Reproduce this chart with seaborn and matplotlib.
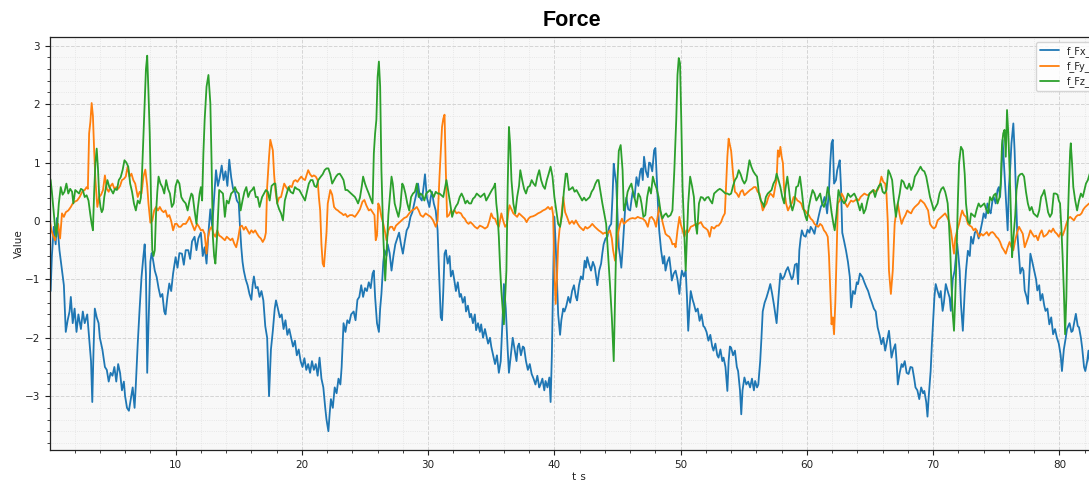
import matplotlib
matplotlib.use("Agg")
import matplotlib.pyplot as plt
from matplotlib.ticker import AutoMinorLocator
import numpy as np
import pandas as pd
import seaborn as sns

# Force components (time in s, force in N)
FX = [(0.0,-0.75),(0.1,-1.2),(0.2,-0.6),(0.35,-0.1),(0.5,-0.4),(0.6,0.05),(0.8,-0.5),(1.0,-0.85),(1.15,-1.1),(1.3,-1.9),
(1.45,-1.7),(1.6,-1.55),(1.7,-1.3),(1.85,-1.75),(2.0,-1.5),(2.15,-1.9),(2.3,-1.6),(2.5,-1.85),(2.65,-1.55),(2.8,-1.75),
(3.0,-1.6),(3.15,-2.0),(3.3,-2.4),(3.4,-3.1),(3.5,-2.2),(3.6,-1.5),(3.75,-1.65),(3.9,-1.75),(4.0,-2.0),(4.2,-2.2),
(4.4,-2.5),(4.55,-2.55),(4.7,-2.75),(4.85,-2.6),(5.0,-2.65),(5.15,-2.5),(5.3,-2.75),(5.45,-2.45),(5.6,-2.6),(5.75,-2.9),
(5.9,-2.75),(6.0,-3.0),(6.15,-3.2),(6.3,-3.25),(6.45,-3.05),(6.6,-2.85),(6.75,-3.2),(6.85,-2.8),(7.0,-2.1),(7.15,-1.5),
(7.3,-0.96),(7.45,-0.6),(7.55,-0.4),(7.65,-0.9),(7.75,-2.6),(7.85,-1.8),(8.0,-0.7),(8.1,-0.55),(8.2,-0.65),(8.35,-0.85),
(8.5,-0.96),(8.65,-1.15),(8.8,-1.3),(8.95,-1.25),(9.1,-1.55),(9.2,-1.6),(9.35,-1.3),(9.5,-1.07),(9.65,-1.2),(9.8,-0.9),
(10.0,-0.62),(10.15,-0.8),(10.3,-0.55),(10.5,-0.56),(10.65,-0.75),(10.8,-0.5),(11.0,-0.5),(11.15,-0.65),(11.3,-0.35),(11.5,-0.27),
(11.65,-0.5),(11.8,-0.3),(12.0,-0.2),(12.15,-0.6),(12.3,-0.45),(12.45,-0.73),(12.6,-0.2),(12.75,0.2),(12.9,-0.1),(13.05,0.4),
(13.2,0.87),(13.35,0.6),(13.5,0.75),(13.65,0.95),(13.8,0.7),(13.95,0.85),(14.1,0.6),(14.25,1.05),(14.4,0.75),(14.55,0.55),
(14.7,0.5),(14.85,0.35),(15.0,0.3),(15.1,-0.1),(15.2,-0.45),(15.3,-0.7),(15.4,-0.85),(15.55,-1.0),(15.7,-1.1),(15.85,-1.25),
(16.0,-1.35),(16.1,-1.1),(16.2,-0.95),(16.35,-1.15),(16.5,-1.13),(16.65,-1.3),(16.8,-1.2),(16.95,-1.36),(17.1,-1.8),(17.25,-2.0),
(17.4,-3.0),(17.55,-2.2),(17.7,-1.88),(17.85,-1.5),(17.95,-1.36),(18.1,-1.5),(18.25,-1.65),(18.4,-1.6),(18.55,-1.85),(18.7,-1.7),
(18.85,-1.95),(19.0,-1.85),(19.15,-2.0),(19.3,-2.15),(19.45,-2.05),(19.6,-2.3),(19.75,-2.2),(19.9,-2.4),(20.05,-2.5),(20.2,-2.35),
(20.35,-2.55),(20.5,-2.45),(20.65,-2.6),(20.8,-2.4),(20.95,-2.55),(21.1,-2.45),(21.25,-2.65),(21.4,-2.34),(21.55,-2.7),(21.7,-2.85),
(21.85,-3.2),(21.95,-3.4),(22.1,-3.6),(22.2,-3.3),(22.3,-3.05),(22.45,-3.2),(22.6,-2.85),(22.75,-2.95),(22.9,-2.7),(23.05,-2.8),
(23.15,-2.5),(23.3,-1.75),(23.45,-1.9),(23.6,-1.7),(23.75,-1.75),(23.9,-1.6),(24.1,-1.55),(24.25,-1.7),(24.4,-1.35),(24.55,-1.3),
(24.7,-1.1),(24.85,-1.3),(25.0,-1.15),(25.15,-1.2),(25.3,-1.05),(25.45,-1.15),(25.6,-0.9),(25.7,-0.85),(25.8,-1.3),(25.95,-1.75),
(26.1,-1.9),(26.2,-1.5),(26.3,-1.25),(26.45,-0.7),(26.55,-0.5),(26.7,-0.6),(26.8,-0.4),(26.95,-0.55),(27.1,-0.85),(27.25,-0.6),
(27.4,-0.4),(27.55,-0.3),(27.7,-0.2),(27.85,-0.4),(28.0,-0.56),(28.15,-0.35),(28.3,-0.16),(28.45,-0.1),(28.6,0.07),(28.75,0.15),
(28.9,0.3),(29.05,0.45),(29.2,0.64),(29.35,0.4),(29.5,0.35),(29.65,0.6),(29.75,0.8),(29.9,0.4),(30.1,0.24),(30.2,0.4),
(30.3,0.5),(30.45,0.3),(30.6,0.18),(30.75,-0.16),(30.85,-0.8),(31.0,-1.65),(31.1,-1.7),(31.2,-1.2),(31.3,-0.56),(31.4,-0.5),
(31.55,-0.73),(31.7,-0.6),(31.8,-0.95),(31.95,-0.85),(32.1,-1.05),(32.2,-1.2),(32.35,-1.05),(32.5,-1.3),(32.6,-1.25),(32.75,-1.4),
(32.9,-1.3),(33.0,-1.55),(33.15,-1.45),(33.3,-1.65),(33.4,-1.59),(33.55,-1.75),(33.7,-1.6),(33.8,-1.87),(33.95,-1.75),(34.1,-1.9),
(34.2,-1.77),(34.35,-2.0),(34.5,-1.85),(34.6,-1.95),(34.75,-2.1),(34.9,-2.0),(35.0,-2.15),(35.15,-2.3),(35.3,-2.45),(35.45,-2.3),
(35.6,-2.6),(35.75,-2.4),(35.9,-1.65),(36.0,-1.08),(36.15,-1.5),(36.3,-2.2),(36.4,-2.6),(36.55,-2.3),(36.7,-2.0),(36.85,-2.2),
(37.0,-2.4),(37.1,-2.15),(37.2,-2.1),(37.35,-2.3),(37.5,-2.15),(37.6,-2.17),(37.75,-2.4),(37.9,-2.55),(38.05,-2.45),(38.2,-2.62),
(38.35,-2.7),(38.5,-2.8),(38.65,-2.65),(38.8,-2.85),(38.9,-2.8),(39.05,-2.7),(39.2,-2.9),(39.3,-2.74),(39.45,-2.85),(39.6,-2.68),
(39.7,-3.1),(39.8,-2.3),(39.9,-1.0),(40.0,0.07),(40.1,-0.4),(40.2,-1.0),(40.3,-1.6),(40.45,-1.95),(40.55,-1.7),(40.7,-1.5),
(40.8,-1.55),(40.95,-1.45),(41.1,-1.3),(41.25,-1.4),(41.4,-1.2),(41.55,-1.1),(41.7,-1.3),(41.8,-1.36),(41.95,-1.1),(42.1,-0.95),
(42.25,-1.0),(42.4,-0.68),(42.5,-0.8),(42.6,-0.62),(42.75,-0.75),(42.9,-0.85),(43.05,-0.7),(43.2,-0.79),(43.3,-0.95),(43.4,-1.1),
(43.55,-0.85),(43.7,-0.73),(43.8,-0.55),(43.9,-0.4),(44.05,-0.3),(44.2,-0.27),(44.35,-0.1),(44.5,-0.05),(44.6,0.4),(44.7,0.98),
(44.8,0.8),(44.9,0.64),(45.0,0.1),(45.1,-0.45),(45.2,-0.6),(45.3,-0.8),(45.4,-0.5),(45.5,-0.16),(45.6,0.2),(45.7,0.4),
(45.85,0.2),(46.0,0.18),(46.1,0.35),(46.2,0.5),(46.35,0.4),(46.5,0.75),(46.65,0.6),(46.8,0.85),(46.9,0.9),(47.0,0.7),
(47.1,1.1),(47.25,0.85),(47.4,0.75),(47.5,1.0),(47.6,0.99),(47.75,0.85),(47.9,1.21),(48.0,1.25),(48.1,0.76),(48.2,0.3),
(48.3,-0.16),(48.45,-0.5),(48.6,-0.73),(48.7,-0.6),(48.8,-0.85),(48.95,-0.7),(49.1,-0.62),(49.2,-0.8),(49.3,-1.02),(49.45,-0.9),
(49.6,-0.85),(49.75,-1.0),(49.9,-1.25),(50.0,-1.0),(50.1,-0.85),(50.25,-0.95),(50.4,-0.85),(50.5,-1.3),(50.6,-1.88),(50.7,-1.5),
(50.8,-1.2),(50.95,-1.35),(51.05,-1.42),(51.2,-1.55),(51.35,-1.5),(51.5,-1.71),(51.65,-1.6),(51.8,-1.8),(51.9,-1.82),(52.05,-1.9),
(52.2,-2.05),(52.35,-1.95),(52.5,-2.15),(52.6,-2.22),(52.75,-2.1),(52.9,-2.3),(53.0,-2.34),(53.15,-2.2),(53.3,-2.4),(53.4,-2.34),
(53.55,-2.5),(53.7,-2.91),(53.8,-2.4),(53.9,-2.15),(54.0,-2.17),(54.15,-2.3),(54.3,-2.22),(54.45,-2.5),(54.55,-2.57),(54.7,-2.9),
(54.8,-3.31),(54.9,-2.9),(55.05,-2.68),(55.2,-2.8),(55.35,-2.75),(55.5,-2.85),(55.65,-2.7),(55.8,-2.9),(55.9,-2.74),(56.05,-2.85),
(56.15,-2.8),(56.3,-2.4),(56.4,-2.0),(56.5,-1.55),(56.65,-1.4),(56.8,-1.31),(56.95,-1.2),(57.1,-1.08),(57.25,-1.25),(57.4,-1.45),
(57.5,-1.6),(57.6,-1.75),(57.75,-1.3),(57.9,-0.9),(58.05,-1.0),(58.2,-0.95),(58.35,-0.85),(58.5,-0.79),(58.65,-0.9),(58.8,-1.0),
(58.9,-0.96),(59.05,-0.75),(59.2,-0.73),(59.3,-1.08),(59.4,-0.5),(59.5,-0.3),(59.6,-0.16),(59.75,-0.25),(59.9,-0.27),(60.05,-0.15),
(60.2,-0.2),(60.3,-0.1),(60.45,-0.15),(60.6,-0.22),(60.7,-0.1),(60.8,-0.05),(60.95,0.1),(61.1,0.24),(61.25,0.3),(61.4,0.41),
(61.5,0.3),(61.6,0.13),(61.75,0.53),(61.85,1.0),(61.95,1.33),(62.05,1.39),(62.15,0.64),(62.3,0.7),(62.4,0.87),(62.5,0.95),
(62.6,1.04),(62.7,0.58),(62.8,-0.2),(62.95,-0.35),(63.1,-0.51),(63.25,-0.7),(63.4,-0.96),(63.5,-1.48),(63.65,-1.2),(63.8,-1.25),
(63.95,-1.05),(64.05,-1.08),(64.2,-0.9),(64.4,-0.96),(64.55,-1.05),(64.7,-1.13),(64.85,-1.2),(65.0,-1.31),(65.15,-1.4),(65.3,-1.5),
(65.45,-1.55),(65.6,-1.82),(65.75,-1.95),(65.9,-2.11),(66.05,-2.0),(66.2,-2.22),(66.35,-2.05),(66.5,-1.88),(66.6,-2.1),(66.7,-2.34),
(66.85,-2.2),(67.0,-2.11),(67.1,-2.4),(67.2,-2.8),(67.35,-2.6),(67.5,-2.45),(67.6,-2.5),(67.75,-2.4),(67.9,-2.6),(68.05,-2.62),
(68.2,-2.5),(68.35,-2.51),(68.5,-2.7),(68.6,-2.85),(68.75,-2.9),(68.9,-3.05),(69.05,-2.85),(69.2,-2.95),(69.3,-2.91),(69.45,-3.1),
(69.55,-3.35),(69.65,-3.0),(69.8,-2.57),(69.9,-2.1),(70.0,-1.71),(70.1,-1.3),(70.2,-1.08),(70.35,-1.2),(70.5,-1.31),(70.6,-1.2),
(70.75,-1.54),(70.85,-1.4),(71.0,-1.08),(71.15,-1.2),(71.3,-1.31),(71.4,-1.54),(71.55,-1.0),(71.7,-0.85),(71.9,-0.39),(72.0,-0.6),
(72.1,-0.85),(72.2,-1.42),(72.35,-1.88),(72.5,-1.2),(72.6,-0.85),(72.75,-0.51),(72.9,-0.6),(73.0,-0.27),(73.15,-0.39),(73.3,-0.2),
(73.45,-0.16),(73.6,-0.3),(73.75,-0.16),(73.9,0.0),(74.0,0.13),(74.15,0.05),(74.3,0.3),(74.45,0.18),(74.55,0.13),(74.7,0.35),
(74.8,0.41),(74.95,0.3),(75.1,0.53),(75.2,0.58),(75.3,0.41),(75.4,0.8),(75.5,1.39),(75.6,1.0),(75.7,0.58),(75.8,0.2),
(75.9,-0.16),(76.0,0.58),(76.1,0.9),(76.2,1.33),(76.35,1.67),(76.45,1.2),(76.55,0.5),(76.65,-0.16),(76.8,-0.6),(76.9,-0.9),
(77.05,-0.8),(77.15,-0.85),(77.25,-1.19),(77.4,-1.3),(77.5,-1.42),(77.6,-1.0),(77.7,-0.56),(77.85,-0.7),(78.0,-0.85),(78.15,-1.0),
(78.25,-1.19),(78.4,-1.1),(78.5,-1.36),(78.65,-1.25),(78.8,-1.45),(78.9,-1.54),(79.05,-1.5),(79.2,-1.77),(79.35,-1.65),(79.5,-1.94),
(79.65,-1.85),(79.8,-2.0),(79.95,-2.1),(80.1,-2.3),(80.2,-2.57),(80.35,-2.2),(80.5,-2.0),(80.6,-1.85),(80.8,-1.75),(80.95,-1.9),
(81.05,-1.88),(81.2,-1.7),(81.3,-1.59),(81.45,-1.8),(81.55,-1.82),(81.7,-2.0),(81.8,-2.17),(81.95,-2.5),(82.05,-2.57),(82.2,-2.4),
(82.3,-2.22),(82.45,-2.5),(82.6,-2.6)]

FY = [(0.0,0.07),(0.15,-0.15),(0.3,-0.25),(0.45,-0.33),(0.55,-0.2),(0.7,-0.05),(0.85,-0.3),(1.0,0.13),(1.15,0.07),(1.3,0.15),
(1.5,0.18),(1.7,0.24),(1.85,0.3),(2.0,0.33),(2.2,0.35),(2.4,0.41),(2.6,0.5),(2.8,0.53),(2.95,0.58),(3.05,0.55),
(3.15,1.5),(3.25,1.7),(3.35,2.02),(3.45,1.8),(3.55,1.2),(3.65,0.7),(3.8,0.24),(3.95,0.41),(4.1,0.45),(4.25,0.53),
(4.4,0.78),(4.55,0.55),(4.7,0.5),(4.85,0.6),(5.0,0.64),(5.15,0.55),(5.3,0.58),(5.45,0.55),(5.6,0.6),(5.75,0.7),
(5.9,0.72),(6.05,0.76),(6.2,0.93),(6.35,0.76),(6.5,0.81),(6.65,0.7),(6.8,0.64),(7.0,0.41),(7.15,0.5),(7.3,0.47),
(7.45,0.76),(7.6,0.88),(7.75,0.6),(7.85,0.3),(8.0,-0.03),(8.15,0.0),(8.3,0.18),(8.45,0.24),(8.6,0.18),(8.75,0.24),
(8.9,0.18),(9.05,0.15),(9.2,0.18),(9.35,0.07),(9.5,0.1),(9.65,0.0),(9.8,-0.16),(9.95,-0.05),(10.1,-0.05),(10.25,-0.1),
(10.4,-0.1),(10.6,-0.05),(10.8,-0.05),(10.95,0.0),(11.1,0.07),(11.3,-0.05),(11.5,-0.16),(11.7,-0.05),(11.85,-0.1),(12.0,-0.16),
(12.15,-0.15),(12.3,-0.22),(12.45,-0.56),(12.55,-0.3),(12.7,-0.15),(12.85,-0.1),(13.0,-0.22),(13.15,-0.27),(13.3,-0.16),(13.45,-0.25),
(13.6,-0.27),(13.75,-0.3),(13.9,-0.33),(14.05,-0.27),(14.2,-0.3),(14.35,-0.33),(14.5,-0.3),(14.65,-0.39),(14.8,-0.45),(14.95,-0.3),
(15.1,-0.1),(15.25,-0.08),(15.4,-0.15),(15.55,-0.1),(15.7,-0.16),(15.85,-0.22),(16.0,-0.16),(16.15,-0.2),(16.3,-0.16),(16.45,-0.22),
(16.6,-0.27),(16.75,-0.3),(16.9,-0.36),(17.05,-0.3),(17.15,-0.2),(17.25,0.58),(17.4,1.1),(17.5,1.39),(17.6,1.3),(17.7,1.21),
(17.8,0.8),(17.9,0.53),(18.05,0.3),(18.2,0.4),(18.35,0.41),(18.5,0.55),(18.6,0.64),(18.75,0.58),(18.9,0.53),(19.05,0.6),
(19.2,0.58),(19.35,0.68),(19.5,0.7),(19.65,0.67),(19.8,0.72),(19.95,0.76),(20.1,0.72),(20.25,0.7),(20.4,0.8),(20.5,0.87),
(20.65,0.8),(20.8,0.76),(20.95,0.78),(21.1,0.76),(21.25,0.7),(21.35,0.4),(21.45,0.18),(21.55,-0.4),(21.65,-0.73),(21.75,-0.78),
(21.85,-0.5),(21.95,-0.2),(22.05,0.3),(22.15,0.41),(22.25,0.53),(22.4,0.45),(22.55,0.24),(22.7,0.2),(22.85,0.18),(23.0,0.15),
(23.15,0.13),(23.3,0.1),(23.45,0.12),(23.6,0.07),(23.8,0.1),(24.0,0.1),(24.2,0.07),(24.4,0.13),(24.6,0.2),(24.8,0.33),
(24.95,0.36),(25.1,0.27),(25.3,0.18),(25.45,0.2),(25.6,0.15),(25.75,0.1),(25.85,-0.33),(25.95,-0.25),(26.05,0.3),(26.15,0.25),
(26.3,0.07),(26.45,-0.05),(26.6,-0.2),(26.7,-0.33),(26.85,-0.16),(27.0,-0.1),(27.15,-0.1),(27.3,-0.16),(27.45,-0.08),(27.6,-0.05),
(27.75,-0.02),(27.9,0.01),(28.1,0.05),(28.3,0.07),(28.5,0.13),(28.7,0.18),(28.9,0.2),(29.1,0.24),(29.25,0.18),(29.4,0.1),
(29.6,0.07),(29.8,0.13),(30.0,0.1),(30.2,0.07),(30.4,0.01),(30.6,-0.1),(30.75,0.01),(30.9,0.76),(31.0,1.2),(31.1,1.61),
(31.2,1.75),(31.3,1.82),(31.4,0.87),(31.5,0.07),(31.65,0.1),(31.8,0.18),(31.95,0.15),(32.1,0.18),(32.25,0.13),(32.4,0.15),
(32.6,0.13),(32.75,0.07),(32.9,0.04),(33.05,-0.02),(33.2,-0.05),(33.35,-0.02),(33.5,-0.05),(33.7,-0.1),(33.9,-0.13),(34.1,-0.08),
(34.3,-0.1),(34.5,-0.13),(34.7,-0.1),(34.85,0.0),(35.0,0.13),(35.15,0.05),(35.3,0.04),(35.45,-0.05),(35.6,-0.1),(35.8,0.13),
(35.95,0.0),(36.1,-0.1),(36.25,-0.05),(36.35,0.15),(36.45,0.27),(36.6,0.2),(36.75,0.13),(36.9,0.1),(37.05,0.07),(37.2,0.13),
(37.35,0.1),(37.5,0.07),(37.65,0.04),(37.8,-0.02),(37.95,0.04),(38.1,0.07),(38.3,0.08),(38.5,0.1),(38.7,0.13),(38.9,0.15),
(39.1,0.18),(39.3,0.2),(39.5,0.24),(39.65,0.2),(39.8,0.24),(39.9,0.1),(40.0,-0.85),(40.1,-1.42),(40.2,-1.0),(40.3,-0.4),
(40.4,-0.16),(40.55,0.07),(40.7,0.41),(40.85,0.15),(41.0,0.07),(41.2,-0.05),(41.4,0.0),(41.55,-0.05),(41.7,0.01),(41.85,-0.05),
(42.0,-0.1),(42.15,-0.13),(42.3,-0.16),(42.45,-0.1),(42.6,-0.13),(42.8,-0.1),(43.0,-0.05),(43.2,-0.1),(43.35,-0.13),(43.5,-0.16),
(43.7,-0.19),(43.85,-0.22),(44.0,-0.2),(44.2,-0.22),(44.4,-0.16),(44.55,-0.3),(44.65,-0.5),(44.8,-0.68),(44.9,-0.56),(45.05,-0.2),
(45.2,-0.05),(45.35,0.04),(45.5,-0.05),(45.65,-0.02),(45.8,0.01),(46.0,0.04),(46.2,0.05),(46.4,0.04),(46.6,0.07),(46.8,0.05),
(47.0,0.04),(47.2,0.0),(47.4,-0.1),(47.55,0.05),(47.7,0.07),(47.9,0.01),(48.05,-0.1),(48.2,0.1),(48.3,0.24),(48.45,0.1),
(48.6,-0.05),(48.8,-0.22),(48.95,-0.25),(49.1,-0.27),(49.25,-0.33),(49.35,-0.4),(49.5,-0.39),(49.6,-0.45),(49.75,-0.16),(49.9,0.07),
(50.0,-0.05),(50.15,-0.16),(50.3,-0.27),(50.45,-0.16),(50.6,-0.19),(50.8,-0.1),(51.0,-0.08),(51.2,-0.05),(51.4,-0.05),(51.6,-0.02),
(51.8,-0.1),(52.0,-0.13),(52.15,-0.16),(52.3,-0.27),(52.45,-0.1),(52.65,-0.13),(52.85,-0.08),(53.0,-0.08),(53.2,-0.02),(53.35,0.07),
(53.5,0.13),(53.6,0.6),(53.7,1.1),(53.8,1.41),(53.9,1.3),(54.0,1.2),(54.15,0.81),(54.3,0.5),(54.45,0.47),(54.6,0.41),
(54.75,0.5),(54.9,0.53),(55.05,0.44),(55.2,0.47),(55.35,0.5),(55.5,0.53),(55.65,0.55),(55.8,0.58),(55.95,0.58),(56.1,0.5),
(56.25,0.47),(56.4,0.3),(56.5,0.18),(56.65,0.25),(56.8,0.3),(56.95,0.41),(57.1,0.47),(57.25,0.44),(57.35,0.41),(57.5,0.6),
(57.6,0.7),(57.7,1.21),(57.8,1.1),(57.9,1.27),(58.0,1.1),(58.1,0.99),(58.2,0.53),(58.35,0.3),(58.5,0.18),(58.65,0.25),
(58.8,0.3),(58.95,0.41),(59.1,0.4),(59.25,0.35),(59.4,0.33),(59.55,0.3),(59.7,0.2),(59.85,0.18),(60.0,0.13),(60.15,0.1),
(60.3,0.04),(60.45,0.01),(60.6,-0.05),(60.75,-0.08),(60.9,-0.1),(61.05,-0.05),(61.2,-0.08),(61.35,-0.16),(61.5,-0.2),(61.65,-0.27),
(61.75,-0.6),(61.85,-1.2),(61.95,-1.77),(62.05,-1.65),(62.15,-1.94),(62.25,-1.4),(62.35,-0.6),(62.45,0.3),(62.6,0.35),(62.75,0.47),
(62.9,0.41),(63.05,0.3),(63.2,0.24),(63.35,0.3),(63.5,0.35),(63.65,0.33),(63.8,0.35),(63.95,0.38),(64.1,0.35),(64.25,0.41),
(64.4,0.44),(64.55,0.47),(64.7,0.45),(64.85,0.44),(65.0,0.47),(65.15,0.5),(65.3,0.53),(65.45,0.5),(65.6,0.53),(65.75,0.6),
(65.9,0.76),(66.05,0.67),(66.2,0.64),(66.3,0.47),(66.4,0.0),(66.5,-0.85),(66.65,-1.25),(66.8,-0.85),(66.95,-0.05),(67.1,0.2),
(67.2,0.3),(67.35,0.1),(67.5,-0.05),(67.65,0.04),(67.8,0.1),(67.95,0.18),(68.1,0.15),(68.25,0.13),(68.4,0.2),(68.55,0.24),
(68.7,0.27),(68.85,0.3),(69.0,0.36),(69.15,0.33),(69.3,0.3),(69.45,0.24),(69.6,0.18),(69.75,-0.05),(69.9,-0.1),(70.05,-0.13),
(70.2,-0.1),(70.35,0.01),(70.5,0.04),(70.65,0.07),(70.8,0.1),(70.95,0.13),(71.1,0.07),(71.25,0.0),(71.4,-0.16),(71.55,-0.4),
(71.65,-0.56),(71.75,-0.3),(71.9,-0.16),(72.05,-0.05),(72.2,0.1),(72.3,0.18),(72.45,0.1),(72.6,0.07),(72.75,-0.05),(72.9,-0.08),
(73.05,-0.1),(73.2,-0.16),(73.35,-0.13),(73.5,-0.2),(73.65,-0.27),(73.8,-0.22),(73.95,-0.25),(74.1,-0.22),(74.25,-0.19),(74.4,-0.25),
(74.55,-0.2),(74.7,-0.19),(74.85,-0.22),(75.0,-0.27),(75.15,-0.3),(75.3,-0.36),(75.45,-0.45),(75.6,-0.5),(75.75,-0.56),(75.9,-0.45),
(76.05,-0.36),(76.2,-0.45),(76.35,-0.5),(76.5,-0.33),(76.65,-0.2),(76.8,-0.1),(76.95,-0.16),(77.1,-0.22),(77.25,-0.45),(77.4,-0.36),
(77.55,-0.27),(77.7,-0.16),(77.85,-0.22),(78.0,-0.27),(78.15,-0.25),(78.3,-0.33),(78.45,-0.22),(78.6,-0.16),(78.75,-0.27),(78.9,-0.25),
(79.05,-0.22),(79.2,-0.16),(79.35,-0.19),(79.5,-0.13),(79.65,-0.19),(79.8,-0.22),(79.95,-0.27),(80.1,-0.2),(80.25,-0.25),(80.4,-0.16),
(80.55,-0.05),(80.7,0.04),(80.85,0.07),(81.0,0.04),(81.15,0.01),(81.3,0.07),(81.45,0.1),(81.6,0.1),(81.75,0.13),(81.9,0.2),
(82.05,0.24),(82.2,0.27),(82.35,0.3),(82.5,0.24)]

FZ = [(0.0,0.76),(0.1,0.7),(0.2,0.5),(0.35,0.13),(0.45,-0.1),(0.55,-0.27),(0.65,0.0),(0.75,0.3),(0.9,0.58),(1.05,0.45),
(1.2,0.5),(1.35,0.64),(1.5,0.47),(1.65,0.55),(1.8,0.5),(1.9,0.3),(2.05,0.53),(2.2,0.5),(2.35,0.47),(2.5,0.55),
(2.65,0.53),(2.8,0.41),(2.95,0.44),(3.1,0.35),(3.25,0.1),(3.35,-0.05),(3.45,-0.16),(3.55,0.5),(3.65,1.0),(3.75,1.24),
(3.85,0.9),(3.95,0.41),(4.05,0.24),(4.15,0.15),(4.25,0.2),(4.35,0.41),(4.5,0.6),(4.6,0.7),(4.75,0.58),(4.9,0.53),
(5.05,0.47),(5.2,0.55),(5.35,0.53),(5.5,0.7),(5.65,0.75),(5.8,0.87),(5.95,1.04),(6.1,1.0),(6.25,0.93),(6.4,0.64),
(6.55,0.5),(6.7,0.3),(6.85,0.18),(7.0,0.35),(7.15,0.3),(7.25,0.4),(7.35,0.87),(7.45,1.44),(7.55,2.0),(7.65,2.6),
(7.75,2.83),(7.85,2.2),(7.95,1.5),(8.05,0.41),(8.15,-0.5),(8.25,-0.6),(8.35,-0.5),(8.45,0.13),(8.55,0.5),(8.65,0.76),
(8.8,0.64),(8.95,0.58),(9.1,0.47),(9.25,0.7),(9.4,0.55),(9.55,0.47),(9.7,0.24),(9.85,0.3),(10.0,0.6),(10.15,0.7),
(10.3,0.64),(10.45,0.41),(10.6,0.35),(10.8,0.3),(10.95,0.18),(11.1,0.35),(11.25,0.47),(11.35,0.44),(11.5,0.18),(11.65,-0.05),
(11.75,0.2),(11.9,0.47),(12.0,0.58),(12.1,0.35),(12.2,1.16),(12.3,1.73),(12.45,2.3),(12.6,2.5),(12.75,2.02),(12.85,0.99),
(12.95,-0.27),(13.05,-0.6),(13.15,-0.73),(13.3,-0.2),(13.45,0.53),(13.6,0.5),(13.75,0.47),(13.9,0.07),(14.05,0.35),(14.2,0.3),
(14.4,0.47),(14.55,0.5),(14.7,0.58),(14.85,0.5),(15.0,0.47),(15.15,0.18),(15.3,0.35),(15.45,0.5),(15.6,0.58),(15.75,0.41),
(15.9,0.5),(16.05,0.53),(16.2,0.58),(16.35,0.41),(16.5,0.41),(16.65,0.24),(16.85,0.41),(17.0,0.47),(17.15,0.53),(17.3,0.5),
(17.45,0.35),(17.6,0.6),(17.8,0.64),(17.9,0.64),(18.05,0.3),(18.2,0.2),(18.35,0.13),(18.5,0.01),(18.65,0.35),(18.8,0.47),
(18.95,0.58),(19.1,0.5),(19.3,0.47),(19.45,0.58),(19.6,0.55),(19.8,0.53),(19.95,0.47),(20.1,0.41),(20.25,0.35),(20.4,0.5),
(20.55,0.64),(20.7,0.7),(20.85,0.7),(21.0,0.6),(21.15,0.58),(21.3,0.7),(21.5,0.76),(21.65,0.8),(21.8,0.87),(21.95,0.9),
(22.1,0.9),(22.25,0.8),(22.4,0.64),(22.55,0.7),(22.7,0.76),(22.85,0.8),(23.0,0.81),(23.15,0.76),(23.3,0.7),(23.45,0.53),
(23.6,0.53),(23.75,0.5),(23.9,0.47),(24.05,0.44),(24.2,0.41),(24.35,0.35),(24.45,0.3),(24.6,0.4),(24.75,0.6),(24.85,0.76),
(25.0,0.64),(25.15,0.55),(25.3,0.47),(25.45,0.38),(25.6,0.3),(25.7,1.16),(25.8,1.5),(25.9,1.73),(26.0,2.47),(26.1,2.73),
(26.2,2.3),(26.3,0.87),(26.45,-0.27),(26.6,-1.02),(26.7,-0.56),(26.85,0.1),(27.0,0.5),(27.1,0.76),(27.2,0.64),(27.35,0.3),
(27.5,0.18),(27.65,0.07),(27.8,0.25),(27.95,0.64),(28.05,0.6),(28.2,0.47),(28.35,0.3),(28.5,0.18),(28.65,0.41),(28.8,0.47),
(28.95,0.5),(29.1,0.64),(29.25,0.41),(29.4,0.47),(29.55,0.44),(29.7,0.35),(29.85,0.47),(30.0,0.5),(30.15,0.53),(30.3,0.47),
(30.45,0.41),(30.6,0.5),(30.75,0.47),(30.9,0.47),(31.05,0.44),(31.2,0.41),(31.3,0.53),(31.45,0.7),(31.6,0.5),(31.75,0.3),
(31.9,0.07),(32.05,0.18),(32.2,0.25),(32.35,0.3),(32.5,0.41),(32.65,0.47),(32.8,0.4),(32.95,0.3),(33.1,0.35),(33.25,0.3),
(33.4,0.3),(33.55,0.38),(33.7,0.41),(33.85,0.47),(34.0,0.44),(34.15,0.41),(34.3,0.44),(34.45,0.47),(34.6,0.35),(34.75,0.41),
(34.9,0.47),(35.05,0.53),(35.2,0.58),(35.3,0.64),(35.4,0.3),(35.5,0.1),(35.6,-0.27),(35.7,-0.8),(35.8,-1.2),(35.9,-1.5),
(36.0,-1.77),(36.1,-1.3),(36.2,-0.85),(36.3,0.58),(36.4,1.61),(36.5,1.3),(36.6,0.7),(36.75,0.3),(36.9,0.13),(37.05,0.41),
(37.2,0.6),(37.3,0.87),(37.45,0.7),(37.6,0.55),(37.75,0.47),(37.9,0.58),(38.05,0.6),(38.2,0.7),(38.35,0.64),(38.5,0.6),
(38.65,0.76),(38.8,0.87),(38.95,0.7),(39.1,0.6),(39.25,0.55),(39.4,0.7),(39.55,0.81),(39.7,0.93),(39.85,0.76),(40.0,0.41),
(40.15,0.18),(40.3,-0.05),(40.45,-0.1),(40.6,0.1),(40.75,0.5),(40.9,0.81),(41.0,0.81),(41.15,0.53),(41.3,0.55),(41.45,0.58),
(41.6,0.5),(41.75,0.53),(41.9,0.47),(42.05,0.41),(42.2,0.35),(42.35,0.4),(42.5,0.35),(42.65,0.38),(42.8,0.41),(42.95,0.5),
(43.1,0.55),(43.25,0.64),(43.4,0.7),(43.5,0.7),(43.65,0.5),(43.8,0.3),(43.95,0.13),(44.1,-0.05),(44.25,-0.56),(44.4,-1.08),
(44.55,-1.65),(44.7,-2.4),(44.85,-0.85),(45.0,0.7),(45.1,1.2),(45.25,1.3),(45.4,0.87),(45.5,0.18),(45.65,0.3),(45.8,0.5),
(45.95,0.58),(46.1,0.64),(46.25,0.47),(46.4,0.35),(46.5,0.24),(46.65,0.47),(46.8,0.41),(46.9,0.3),(47.05,0.07),(47.2,0.1),
(47.35,0.41),(47.5,0.58),(47.65,0.47),(47.8,0.76),(47.95,0.64),(48.1,0.55),(48.25,0.41),(48.4,0.18),(48.55,0.04),(48.7,0.1),
(48.85,0.13),(49.0,0.07),(49.2,0.1),(49.35,0.18),(49.5,0.87),(49.65,1.73),(49.75,2.5),(49.85,2.79),(49.95,2.7),(50.05,1.73),
(50.15,0.58),(50.3,-0.27),(50.4,-0.85),(50.5,-0.27),(50.6,0.3),(50.75,0.76),(50.9,0.6),(51.05,0.41),(51.15,0.0),(51.3,-0.22),
(51.45,0.3),(51.6,0.41),(51.75,0.4),(51.9,0.35),(52.05,0.4),(52.2,0.41),(52.35,0.35),(52.5,0.3),(52.65,0.47),(52.8,0.5),
(52.95,0.53),(53.1,0.55),(53.25,0.53),(53.4,0.5),(53.55,0.47),(53.7,0.47),(53.85,0.45),(54.0,0.47),(54.15,0.6),(54.3,0.7),
(54.45,0.75),(54.6,0.87),(54.75,0.8),(54.9,0.7),(55.05,0.64),(55.2,0.7),(55.35,0.9),(55.45,1.04),(55.6,0.93),(55.75,0.85),
(55.9,0.8),(56.05,0.76),(56.2,0.47),(56.35,0.35),(56.5,0.3),(56.6,0.24),(56.75,0.41),(56.9,0.47),(57.05,0.5),(57.2,0.53),
(57.35,0.64),(57.5,0.7),(57.6,0.81),(57.75,0.7),(57.9,0.58),(58.05,0.41),(58.2,0.3),(58.3,0.55),(58.45,0.76),(58.6,0.5),
(58.7,0.3),(58.85,0.18),(59.0,0.3),(59.15,0.58),(59.3,0.6),(59.45,0.76),(59.6,0.5),(59.75,0.2),(59.9,0.07),(60.0,0.01),
(60.15,0.24),(60.3,0.4),(60.45,0.53),(60.6,0.47),(60.75,0.35),(60.9,0.41),(61.05,0.47),(61.2,0.3),(61.35,0.24),(61.5,0.35),
(61.65,0.58),(61.8,0.41),(61.95,0.15),(62.1,-0.05),(62.2,-0.16),(62.35,0.13),(62.5,0.53),(62.65,0.41),(62.8,0.35),(62.95,0.3),
(63.1,0.35),(63.25,0.47),(63.45,0.41),(63.6,0.44),(63.75,0.47),(63.9,0.4),(64.05,0.3),(64.2,0.18),(64.35,0.3),(64.5,0.13),
(64.65,0.2),(64.8,0.35),(64.95,0.47),(65.1,0.5),(65.25,0.53),(65.4,0.41),(65.55,0.53),(65.7,0.6),(65.85,0.64),(66.0,0.5),
(66.15,0.47),(66.3,0.53),(66.45,0.87),(66.6,0.8),(66.75,0.7),(66.9,0.35),(67.05,0.07),(67.2,0.3),(67.35,0.47),(67.5,0.7),
(67.65,0.67),(67.8,0.58),(67.95,0.55),(68.1,0.64),(68.25,0.53),(68.4,0.6),(68.55,0.76),(68.7,0.81),(68.85,0.87),(69.0,0.93),
(69.15,0.87),(69.3,0.85),(69.45,0.76),(69.6,0.58),(69.75,0.41),(69.9,0.3),(70.05,0.18),(70.2,0.24),(70.35,0.3),(70.5,0.47),
(70.65,0.55),(70.8,0.58),(70.95,0.5),(71.05,0.41),(71.15,0.3),(71.25,-0.05),(71.35,-0.5),(71.45,-1.1),(71.55,-1.6),(71.65,-1.88),
(71.75,-1.3),(71.85,-0.6),(71.95,0.3),(72.05,0.99),(72.2,1.27),(72.35,1.21),(72.5,0.8),(72.6,0.3),(72.75,0.0),(72.9,-0.05),
(73.0,0.13),(73.15,0.1),(73.3,0.07),(73.45,0.2),(73.6,0.3),(73.75,0.24),(73.9,0.27),(74.05,0.3),(74.2,0.2),(74.35,0.13),
(74.5,0.41),(74.65,0.35),(74.8,0.44),(74.95,0.47),(75.1,0.3),(75.25,0.4),(75.35,0.64),(75.45,1.3),(75.55,1.5),(75.65,1.56),
(75.75,1.1),(75.85,1.9),(75.95,1.5),(76.05,0.9),(76.15,0.18),(76.25,-0.62),(76.35,-0.3),(76.5,0.1),(76.6,0.53),(76.75,0.76),
(76.9,0.8),(77.05,0.81),(77.2,0.76),(77.35,0.5),(77.5,0.3),(77.65,0.18),(77.8,0.24),(77.95,0.13),(78.1,0.1),(78.25,0.07),
(78.4,0.18),(78.55,0.41),(78.7,0.47),(78.8,0.53),(78.95,0.35),(79.1,0.15),(79.25,0.07),(79.4,0.13),(79.55,0.47),(79.7,0.47),
(79.85,0.45),(79.95,0.35),(80.05,0.3),(80.15,-0.1),(80.25,-0.6),(80.35,-1.2),(80.45,-1.94),(80.55,-1.3),(80.65,-0.1),(80.75,0.6),
(80.85,1.2),(80.9,1.33),(81.0,0.99),(81.1,0.58),(81.25,0.35),(81.4,0.18),(81.55,0.35),(81.7,0.47),(81.85,0.41),(82.0,0.55),
(82.1,0.64),(82.25,0.7),(82.4,0.81),(82.55,0.76)]

SERIES = {"f_Fx_N": FX, "f_Fy_N": FY, "f_Fz_N": FZ}
PALETTE = ["#1f77b4", "#ff7f0e", "#2ca02c"]

frames = []
for name, pts in SERIES.items():
    t, v = zip(*pts)
    frames.append(pd.DataFrame({"t_s": t, "Value": v, "series": name}))
df = pd.concat(frames, ignore_index=True)

sns.set_style("ticks")
plt.rcParams["font.family"] = ["DejaVu Sans"]
plt.rcParams["text.color"] = "#222222"
plt.rcParams["axes.labelcolor"] = "#222222"
plt.rcParams["xtick.color"] = "#222222"
plt.rcParams["ytick.color"] = "#222222"

fig = plt.figure(figsize=(10.89, 4.82), dpi=100)
# the plotting area runs past the right edge of the canvas
ax = fig.add_axes([0.0459, 0.0664, 0.971, 0.857])
ax.set_facecolor("#f8f8f8")

sns.lineplot(data=df, x="t_s", y="Value", hue="series", palette=PALETTE,
             estimator=None, errorbar=None, linewidth=1.3, ax=ax)

ax.set_xlim(0.05, 83.8)
ax.xaxis.set_minor_locator(AutoMinorLocator())
ax.yaxis.set_minor_locator(AutoMinorLocator())
ax.grid(which="major", linestyle="--", linewidth=0.7, color="#d4d4d4")
ax.grid(which="minor", linestyle=":", linewidth=0.6, color="#e2e2e2")
ax.set_axisbelow(True)
ax.tick_params(axis="both", which="major", labelsize=7.5, length=3.5, width=0.8)
ax.tick_params(axis="both", which="minor", length=2, width=0.6)
for side in ["left", "bottom", "top", "right"]:
    ax.spines[side].set_color("#222222")
    ax.spines[side].set_linewidth(0.9)

ax.set_xlabel("t_s", fontsize=7.5, labelpad=2)
ax.set_ylabel("Value", fontsize=7.5, labelpad=0.5)

handles, labels = ax.get_legend_handles_labels()
ax.legend(handles, labels, loc="upper right", fontsize=7, frameon=True,
          framealpha=0.8, edgecolor="#cccccc", labelspacing=0.45)

fig.text(572 / 1089, 1 - 21 / 482, "Force", ha="center", va="center", color="black",
         fontsize=15.5, fontweight="bold", family=["Liberation Sans", "DejaVu Sans"])

fig.savefig("out.png", dpi=100)
